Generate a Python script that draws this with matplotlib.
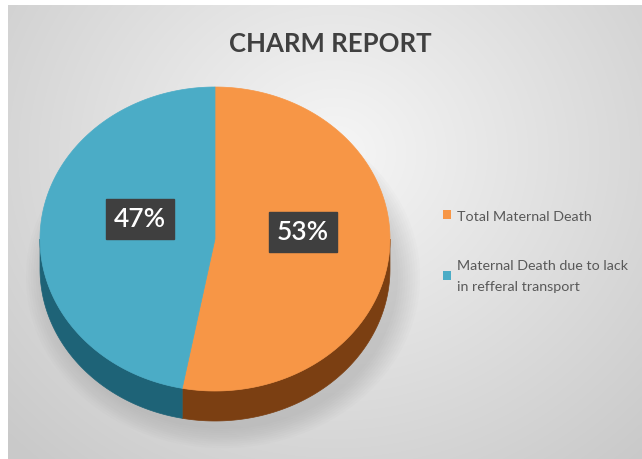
import numpy as np
import matplotlib
matplotlib.use("Agg")
import matplotlib.pyplot as plt
from matplotlib.patches import Polygon, Ellipse, Patch

# data
labels = ["Total Maternal Death", "Maternal Death due to lack\nin refferal transport"]
values = [53, 47]
top_colors = ["#F79646", "#4BACC6"]
side_colors = ["#7B3F12", "#1E6377"]
title = "CHARM REPORT"

W, H = 642, 460
fig = plt.figure(figsize=(W / 100, H / 100), dpi=100)
fig.patch.set_facecolor("white")
ax = fig.add_axes([0, 0, 1, 1])
ax.set_xlim(0, W)
ax.set_ylim(H, 0)
ax.axis("off")

# grey gradient background
yy, xx = np.mgrid[0:H, 0:W]
d = np.sqrt(((xx - 330) / 420.0) ** 2 + ((yy - 150) / 380.0) ** 2)
g = np.clip(0.965 - 0.16 * d, 0.79, 0.97)
bg = np.dstack([g, g, g])
ax.imshow(bg, extent=(8, W, H, 6), zorder=0, interpolation="bilinear")

cx, cy, rx, ry, depth = 215, 240, 175, 152, 30

# soft shadow
for i in range(10):
    s = 1 + i * 0.014
    ax.add_patch(Ellipse((cx + 8, cy + depth + 8), 2 * rx * s, 2 * ry * s,
                         color="#707070", alpha=0.025, lw=0, zorder=1))

def edge(t0, t1, dy=0, n=200):
    t = np.radians(np.linspace(t0, t1, n))
    return np.column_stack([cx + rx * np.sin(t), cy - ry * np.cos(t) + dy])

fracs = np.array(values) / sum(values)
bounds = np.concatenate([[0], np.cumsum(fracs) * 360])

# sides
for i in range(len(values)):
    a0, a1 = max(bounds[i], 90), min(bounds[i + 1], 270)
    if a1 > a0:
        top = edge(a0, a1)
        bot = edge(a1, a0, depth)
        ax.add_patch(Polygon(np.vstack([top, bot]), closed=True, fc=side_colors[i],
                             ec=side_colors[i], lw=0.5, zorder=2))

# top faces
for i in range(len(values)):
    pts = np.vstack([[cx, cy], edge(bounds[i], bounds[i + 1])])
    ax.add_patch(Polygon(pts, closed=True, fc=top_colors[i], ec=top_colors[i],
                         lw=0.5, zorder=3))

# data labels
label_pos = [(303, 233), (140, 220)]
for i, v in enumerate(values):
    x, y = label_pos[i]
    ax.text(x, y, f"{v}%", ha="center", va="center", color="white", fontsize=19,
            family="Lato", fontweight="semibold", zorder=5,
            bbox=dict(boxstyle="square,pad=0.3", fc="#3F3F3F", ec="#3F3F3F"))

ax.text(330, 44, title, ha="center", va="center", fontsize=18.5, fontweight="bold",
        family="Lato", color="#404040", zorder=5)

handles = [Patch(fc=c, ec="none") for c in top_colors]
leg = fig.legend(handles, labels, loc="upper left", bbox_to_anchor=(430 / W, 1 - 198 / H),
                 frameon=False, labelcolor="#595959", handlelength=0.6,
                 handleheight=0.6, handletextpad=0.4, labelspacing=2.6,
                 prop={"family": "Lato", "size": 10.3})
for t in leg.get_texts():
    t.set_linespacing(1.9)

fig.savefig("out.png", dpi=100)
